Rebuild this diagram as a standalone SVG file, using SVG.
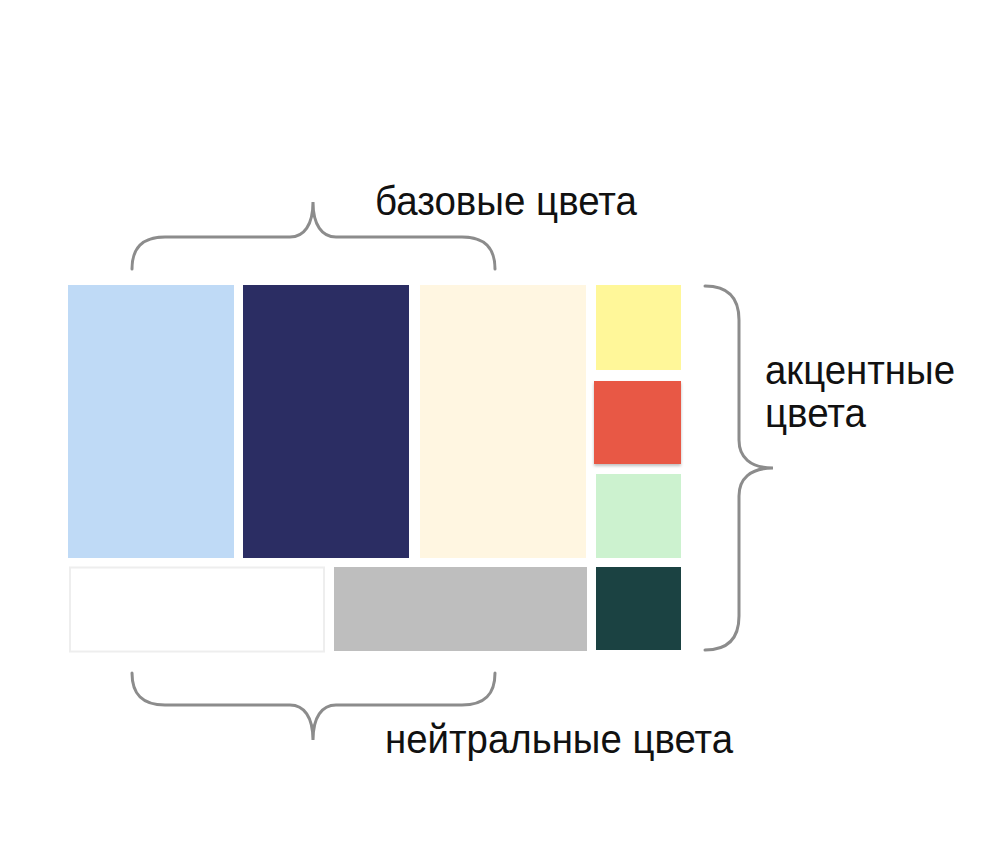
<svg xmlns="http://www.w3.org/2000/svg" width="987" height="852" viewBox="0 0 987 852">
<style>
.lbl{font-family:"Liberation Sans",Arial,sans-serif;font-size:41px;fill:#111}
.brace{fill:none;stroke:#8c8c8c;stroke-width:3;stroke-linecap:round}
</style>
<defs>
<filter id="sh" x="-10%" y="-10%" width="130%" height="130%">
<feDropShadow dx="0" dy="2" stdDeviation="1.5" flood-color="#000" flood-opacity="0.25"/>
</filter>
</defs>
<rect width="987" height="852" fill="#fff"/>
<g id="base-light-blue"><rect x="68" y="285" width="166" height="273" fill="#BFDAF6"/></g>
<g id="base-navy"><rect x="243" y="285" width="166" height="273" fill="#2B2D63"/></g>
<g id="base-cream"><rect x="420" y="285" width="166" height="273" fill="#FFF6E1"/></g>
<g id="accent-yellow"><rect x="596" y="285" width="85" height="85" fill="#FFF799"/></g>
<g id="accent-red"><rect x="594" y="381" width="87" height="83" fill="#E85844" filter="url(#sh)"/></g>
<g id="accent-green"><rect x="596" y="474" width="85" height="84" fill="#CCF2CF"/></g>
<g id="neutral-white"><rect x="70" y="567.5" width="254" height="84" fill="#fff" stroke="#eeeeee" stroke-width="2"/></g>
<g id="neutral-gray"><rect x="334" y="567" width="253" height="84" fill="#BEBEBE"/></g>
<g id="accent-dark-green"><rect x="596" y="567" width="85" height="83" fill="#1B4242"/></g>
<g id="connectors">
<path class="brace" d="M132,269 C132,248 142,237 165,237 L290,237 C304,237 313,225 313,202 C313,225 322,237 336,237 L462,237 C485,237 495,248 495,269"/>
<path class="brace" d="M132,673 C132,694 142,705 165,705 L290,705 C304,705 313,717 313,740 C313,717 322,705 336,705 L462,705 C485,705 495,694 495,673"/>
<path class="brace" d="M705,286 C727,286 739,297 739,320 L739,440 C739,457 750,468 773,468 C750,468 739,479 739,496 L739,616 C739,639 727,650 705,650"/>
</g>
<g id="labels">
<text class="lbl" x="375" y="215" textLength="262" lengthAdjust="spacingAndGlyphs">базовые цвета</text>
<text class="lbl" x="385" y="753" textLength="348" lengthAdjust="spacingAndGlyphs">нейтральные цвета</text>
<text class="lbl" x="765" y="384" textLength="190" lengthAdjust="spacingAndGlyphs">акцентные</text>
<text class="lbl" x="765" y="427" textLength="101" lengthAdjust="spacingAndGlyphs">цвета</text>
</g>
</svg>
